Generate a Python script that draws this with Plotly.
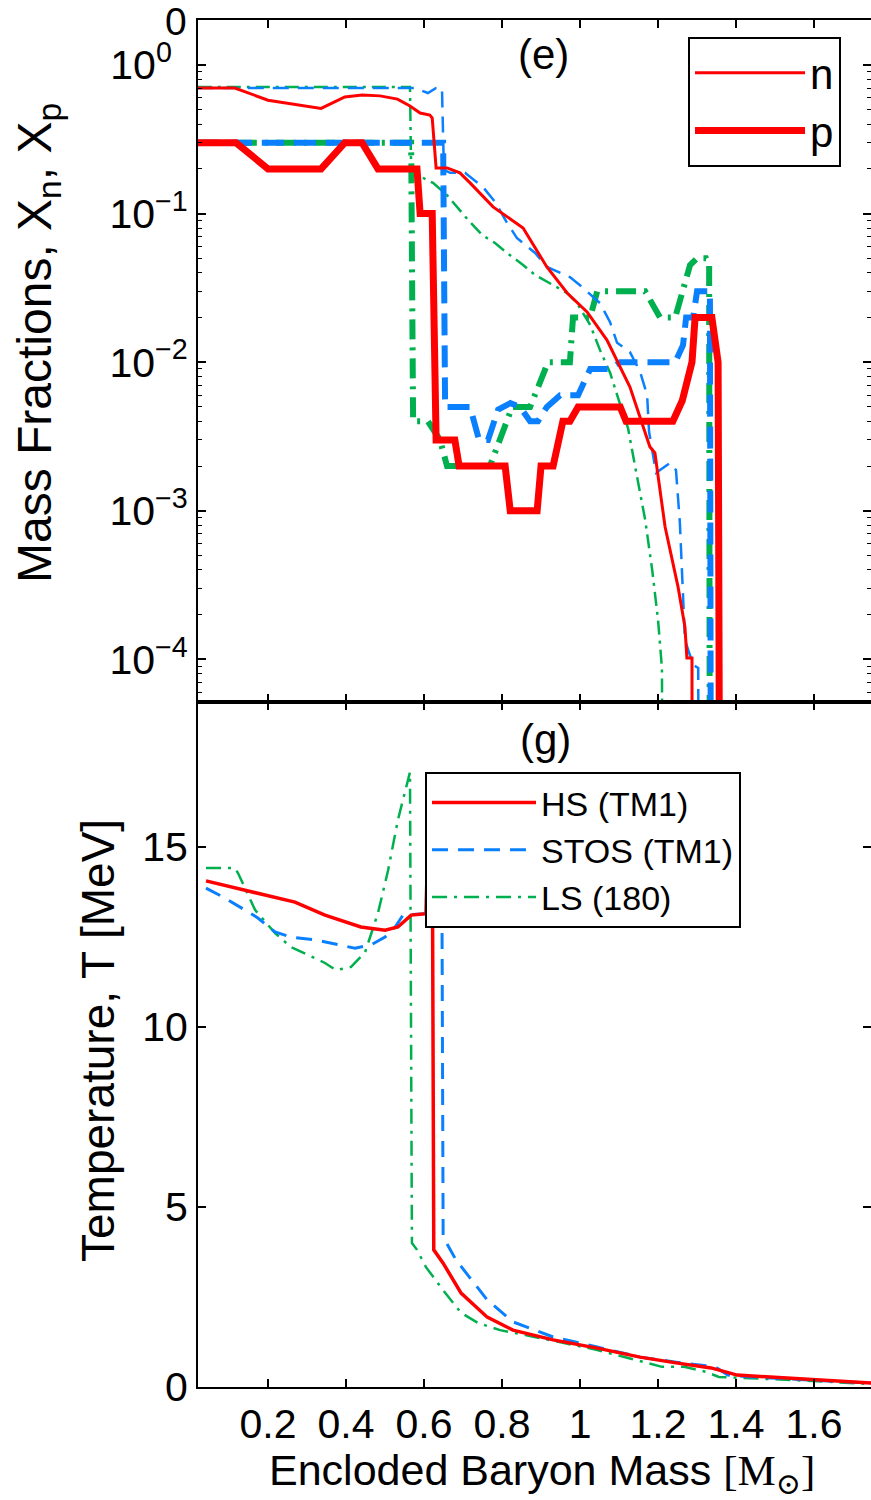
import plotly.graph_objects as go

# ---------------- panel (e): mass fractions (log scale) ----------------
hs_n_x = [0.02, 0.115, 0.200, 0.336, 0.397, 0.441, 0.487, 0.532, 0.564, 0.590, 0.615, 0.621, 0.631,
          0.659, 0.692, 0.718, 0.777, 0.854, 0.915, 0.967, 1.018, 1.069, 1.128, 1.154, 1.179, 1.192,
          1.218, 1.251, 1.269, 1.274, 1.287, 1.288]
hs_n_y = [0.70, 0.70, 0.58, 0.51, 0.61, 0.628, 0.62, 0.59, 0.53, 0.475, 0.46, 0.44, 0.203,
          0.203, 0.188, 0.161, 0.111, 0.080, 0.0437, 0.0292, 0.0218, 0.0141, 0.0068, 0.0043, 0.0027, 0.00245,
          0.00078, 0.00031, 0.000165, 0.000102, 0.000102, 1e-6]

hs_p_x = [0.02, 0.118, 0.200, 0.336, 0.397, 0.441, 0.482, 0.582, 0.590, 0.621, 0.631, 0.679, 0.690,
          0.808, 0.821, 0.890, 0.900, 0.931, 0.956, 0.974, 0.995, 1.103, 1.118, 1.238, 1.262, 1.274,
          1.287, 1.295, 1.338, 1.354, 1.359]
hs_p_y = [0.30, 0.30, 0.20, 0.20, 0.30, 0.30, 0.20, 0.20, 0.10, 0.10, 0.003, 0.003, 0.002,
          0.002, 0.001, 0.001, 0.002, 0.002, 0.004, 0.004, 0.005, 0.005, 0.004, 0.004, 0.0055, 0.0075,
          0.010, 0.020, 0.020, 0.010, 1e-6]

stos_n_x = [0.02, 0.577, 0.610, 0.631, 0.646, 0.651, 0.667, 0.705, 0.751, 0.782, 0.813, 0.838, 0.885,
            0.915, 0.974, 1.005, 1.051, 1.077, 1.095, 1.128, 1.154, 1.172, 1.177, 1.195, 1.231, 1.246,
            1.256, 1.264, 1.269, 1.290, 1.303, 1.305]
stos_n_y = [0.70, 0.70, 0.648, 0.70, 0.70, 0.197, 0.188, 0.188, 0.151, 0.120, 0.0865, 0.0686, 0.0543,
            0.0437, 0.0374, 0.0321, 0.0250, 0.0186, 0.0135, 0.0117, 0.0086, 0.0060, 0.0034, 0.0018, 0.0021,
            0.00188, 0.00083, 0.00031, 0.000135, 0.0000917, 0.0000875, 1e-6]

stos_p_x = [0.02, 0.649, 0.654, 0.718, 0.741, 0.764, 0.790, 0.821, 0.846, 0.872, 0.892, 0.915, 0.949,
            0.995, 1.026, 1.077, 1.103, 1.244, 1.264, 1.272, 1.290, 1.300, 1.333, 1.336]
stos_p_y = [0.30, 0.30, 0.005, 0.005, 0.003, 0.003, 0.0048, 0.0053, 0.005, 0.004, 0.004, 0.005, 0.006,
            0.006, 0.009, 0.009, 0.010, 0.010, 0.013, 0.020, 0.020, 0.030, 0.030, 1e-6]

ls_n_x = [0.02, 0.564, 0.567, 0.603, 0.623, 0.659, 0.687, 0.713, 0.749, 0.782, 0.813, 0.854, 0.885,
          0.923, 0.967, 0.992, 1.026, 1.051, 1.077, 1.097, 1.123, 1.141, 1.167, 1.185, 1.200, 1.210, 1.213]
ls_n_y = [0.71, 0.71, 0.191, 0.17, 0.161, 0.133, 0.109, 0.0906, 0.0718, 0.0634, 0.0543, 0.0451, 0.0386,
          0.0341, 0.0292, 0.0250, 0.0178, 0.0121, 0.0085, 0.0058, 0.0036, 0.0020, 0.00087, 0.0004, 0.000184,
          0.0000875, 1e-6]

ls_p_x = [0.02, 0.567, 0.572, 0.610, 0.641, 0.659, 0.769, 0.795, 0.826, 0.872, 0.918, 0.974, 0.982,
          1.026, 1.044, 1.167, 1.205, 1.244, 1.282, 1.300, 1.323, 1.331, 1.333]
ls_p_y = [0.30, 0.30, 0.004, 0.004, 0.003, 0.002, 0.002, 0.003, 0.005, 0.005, 0.010, 0.010, 0.020,
          0.020, 0.030, 0.030, 0.020, 0.020, 0.045, 0.050, 0.050, 0.045, 1e-6]

# ---------------- panel (g): temperature ----------------
hs_t_x = [0.041, 0.105, 0.269, 0.346, 0.438, 0.500, 0.533, 0.567, 0.605, 0.612, 0.621, 0.625, 0.649,
          0.695, 0.762, 0.828, 0.931, 1.044, 1.154, 1.246, 1.336, 1.403, 1.436, 1.595, 1.738, 1.746]
hs_t_y = [14.06, 13.89, 13.47, 13.11, 12.78, 12.69, 12.78, 13.11, 13.15, 16.0, 16.0, 3.81, 3.44,
          2.61, 1.94, 1.58, 1.31, 1.08, 0.83, 0.67, 0.53, 0.33, 0.31, 0.19, 0.11, 0.11]

stos_t_x = [0.041, 0.085, 0.141, 0.174, 0.218, 0.259, 0.321, 0.362, 0.423, 0.464, 0.500, 0.526, 0.546,
            0.605, 0.615, 0.645, 0.649, 0.682, 0.762, 0.828, 0.931, 1.044, 1.154, 1.246, 1.346, 1.379,
            1.436, 1.595, 1.746]
stos_t_y = [13.86, 13.61, 13.25, 13.03, 12.64, 12.50, 12.42, 12.33, 12.19, 12.28, 12.50, 12.78, 13.11,
            13.15, 16.5, 16.5, 4.17, 3.53, 2.42, 1.81, 1.39, 1.11, 0.83, 0.69, 0.56, 0.33,
            0.28, 0.19, 0.11]

ls_t_x = [0.041, 0.115, 0.123, 0.167, 0.218, 0.259, 0.303, 0.346, 0.374, 0.413, 0.449, 0.482, 0.508,
          0.533, 0.546, 0.564, 0.569, 0.582, 0.605, 0.649, 0.695, 0.738, 0.795, 0.862, 1.044, 1.210,
          1.267, 1.323, 1.356, 1.436, 1.595, 1.746]
ls_t_y = [14.42, 14.42, 14.28, 13.25, 12.61, 12.22, 12.00, 11.78, 11.58, 11.67, 12.08, 13.17, 14.36,
          15.75, 16.31, 17.08, 4.00, 3.81, 3.33, 2.69, 2.06, 1.78, 1.58, 1.44, 1.03, 0.56,
          0.56, 0.42, 0.28, 0.25, 0.17, 0.08]

x_tickvals = [0.2, 0.4, 0.6, 0.8, 1.0, 1.2, 1.4, 1.6]
x_ticktext = ["0.2", "0.4", "0.6", "0.8", "1", "1.2", "1.4", "1.6"]
ylog_tickvals = [1e-4, 1e-3, 1e-2, 1e-1, 1]
ylog_ticktext = ["10<sup>−4</sup>", "10<sup>−3</sup>", "10<sup>−2</sup>", "10<sup>−1</sup>",
                 "10<sup>0\u00a0\u00a0</sup>"]
ylog_minor = [m * 10.0 ** e for e in range(-5, 1) for m in range(2, 10)]
yt_tickvals = [0, 5, 10, 15]
yt_ticktext = ["0", "5", "10", "15"]

RED = "#ff0000"
BLUE = "#0a80ff"
GREEN = "#00b04f"
FONT = "Liberation Sans, Arial, sans-serif"

fig = go.Figure()

# top panel traces (LS, STOS below, HS on top)
fig.add_trace(go.Scatter(x=ls_n_x, y=ls_n_y, mode="lines", xaxis="x", yaxis="y", showlegend=False,
                         line=dict(color=GREEN, width=2.5, dash="14px,6px,3px,6px")))
fig.add_trace(go.Scatter(x=ls_p_x, y=ls_p_y, mode="lines", xaxis="x", yaxis="y", showlegend=False,
                         line=dict(color=GREEN, width=6, dash="20px,8px,3px,8px")))
fig.add_trace(go.Scatter(x=stos_n_x, y=stos_n_y, mode="lines", xaxis="x", yaxis="y", showlegend=False,
                         line=dict(color=BLUE, width=2.5, dash="16px,9px")))
fig.add_trace(go.Scatter(x=stos_p_x, y=stos_p_y, mode="lines", xaxis="x", yaxis="y", showlegend=False,
                         line=dict(color=BLUE, width=6, dash="22px,10px")))
fig.add_trace(go.Scatter(x=hs_n_x, y=hs_n_y, mode="lines", xaxis="x", yaxis="y", name="n",
                         legend="legend", legendrank=1, line=dict(color=RED, width=3)))
fig.add_trace(go.Scatter(x=hs_p_x, y=hs_p_y, mode="lines", xaxis="x", yaxis="y", name="p",
                         legend="legend", legendrank=2, line=dict(color=RED, width=7)))

# bottom panel traces (HS drawn last, listed first in legend)
fig.add_trace(go.Scatter(x=ls_t_x, y=ls_t_y, mode="lines", xaxis="x2", yaxis="y2", name="LS (180)",
                         legend="legend2", legendrank=3,
                         line=dict(color=GREEN, width=2.5, dash="15px,7px,3px,7px")))
fig.add_trace(go.Scatter(x=stos_t_x, y=stos_t_y, mode="lines", xaxis="x2", yaxis="y2", name="STOS (TM1)",
                         legend="legend2", legendrank=2, line=dict(color=BLUE, width=3, dash="16px,10px")))
fig.add_trace(go.Scatter(x=hs_t_x, y=hs_t_y, mode="lines", xaxis="x2", yaxis="y2", name="HS (TM1)",
                         legend="legend2", legendrank=1, line=dict(color=RED, width=3.5)))

split = 685 / 1367.0
axis_common = dict(showgrid=False, zeroline=False, showline=True, linecolor="black", linewidth=2,
                   ticks="inside", ticklen=8, tickwidth=1.5, tickcolor="black", mirror="ticks",
                   tickangle=0, automargin=False,
                   tickfont=dict(family=FONT, size=41, color="black"))

fig.update_layout(
    width=871, height=1500,
    margin=dict(l=198, r=0, t=20, b=113, autoexpand=False),
    paper_bgcolor="white", plot_bgcolor="white",
    font=dict(family=FONT, color="black"),
    xaxis=dict(axis_common, domain=[0, 1], anchor="y", range=[0.0205, 1.746],
               tickvals=x_tickvals, ticktext=x_ticktext, showticklabels=False),
    yaxis=dict(axis_common, domain=[split, 1], anchor="x", type="log", range=[-4.287, 0.303],
               tickvals=ylog_tickvals, ticktext=ylog_ticktext,
               minor=dict(tickvals=ylog_minor, ticks="inside", ticklen=4, tickwidth=1.2,
                          tickcolor="black", showgrid=False)),
    xaxis2=dict(axis_common, domain=[0, 1], anchor="y2", range=[0.0205, 1.746],
                tickvals=x_tickvals, ticktext=x_ticktext),
    yaxis2=dict(axis_common, domain=[0, split], anchor="x2", range=[0, 19.03],
                tickvals=yt_tickvals, ticktext=yt_ticktext),
    legend=dict(xref="container", yref="container", x=688 / 871, y=1 - 37 / 1500,
                xanchor="left", yanchor="top", bgcolor="white", bordercolor="black",
                orientation="v", itemwidth=110,
                borderwidth=2, font=dict(family=FONT, size=42, color="black")),
    legend2=dict(xref="container", yref="container", x=425 / 871, y=1 - 772 / 1500,
                 xanchor="left", yanchor="top", bgcolor="white", bordercolor="black",
                 orientation="v", itemwidth=104,
                 borderwidth=2, font=dict(family=FONT, size=34, color="black")),
    annotations=[
        # axis titles
        dict(text="Mass Fractions, X<sub>n</sub>, X<sub>p</sub>", xref="paper", yref="paper",
             x=(38 - 198) / 673, y=(1387 - 343) / 1367, textangle=-90, showarrow=False,
             xanchor="center", yanchor="middle", font=dict(family=FONT, size=48, color="black")),
        dict(text="Temperature, T [MeV]", xref="paper", yref="paper",
             x=(98 - 198) / 673, y=(1387 - 1041) / 1367, textangle=-90, showarrow=False,
             xanchor="center", yanchor="middle", font=dict(family=FONT, size=46, color="black")),
        dict(text="Encloded Baryon Mass <span style='font-family:Liberation Serif, DejaVu Serif, serif'>[M<sub>⊙</sub>]</span>",
             xref="paper", yref="paper", x=(542 - 198) / 673, y=(1387 - 1473) / 1367,
             showarrow=False, xanchor="center", yanchor="middle",
             font=dict(family=FONT, size=43, color="black")),
        # panel labels
        dict(text="(e)", xref="paper", yref="paper", x=(543 - 198) / 673, y=(1387 - 55) / 1367,
             showarrow=False, xanchor="center", yanchor="middle",
             font=dict(family=FONT, size=42, color="black")),
        dict(text="(g)", xref="paper", yref="paper", x=(545 - 198) / 673, y=(1387 - 739) / 1367,
             showarrow=False, xanchor="center", yanchor="middle",
             font=dict(family=FONT, size=42, color="black")),
        dict(text="0", xref="paper", yref="paper", x=(176 - 198) / 673, y=(1387 - 22) / 1367,
             showarrow=False, xanchor="center", yanchor="middle",
             font=dict(family=FONT, size=39, color="black")),
    ],
)

fig.write_html("out.html")
